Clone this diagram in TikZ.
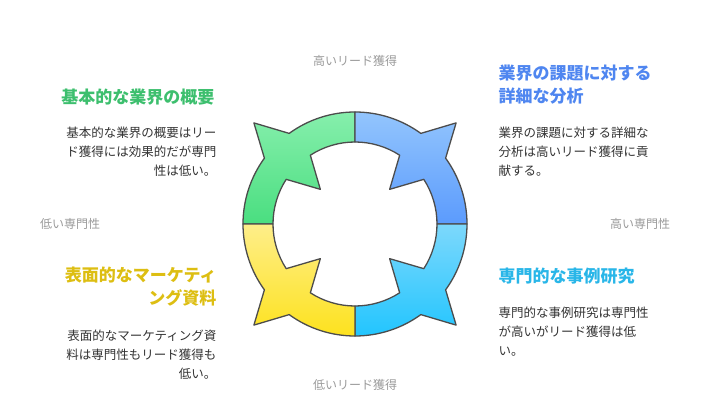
\documentclass[tikz,border=0pt]{standalone}
\usepackage{fontspec}
\setmainfont{Noto Sans CJK JP}
\usetikzlibrary{positioning}

\definecolor{cgreen}{HTML}{3DBF6E}
\definecolor{cblue}{HTML}{4F86F0}
\definecolor{ccyan}{HTML}{29B6E8}
\definecolor{cyellow}{HTML}{DDBE12}
\definecolor{cgray}{HTML}{9A9A9A}
\definecolor{ctext}{HTML}{333333}

\tikzset{
  axislabel/.style={text=cgray, font=\fontsize{12}{14}\selectfont},
  heading/.style={font=\fontsize{17}{23}\selectfont\bfseries},
  body/.style={text=ctext, font=\fontsize{12.5}{19}\selectfont},
  ring/.style={draw=black!70, line width=1.3pt, line join=round}
}

\begin{document}
\begin{tikzpicture}[x=1pt, y=1pt]
        \useasboundingbox (0,0) rectangle (722,413);

        % ring quadrants
        \begin{scope}[shift={(355,189)}]
        \foreach \a/\ctop/\cbot in {90/86EFAC/4ADE80, 0/93C5FD/5B9BFD, -90/7DD8FC/22C5FE, 180/FEEE8A/FDE21E} {
            \definecolor{qt}{HTML}{\ctop}
            \definecolor{qb}{HTML}{\cbot}
            \path[ring, top color=qt, bottom color=qb]
                ({\a+90}:82) -- ({\a+90}:112)
                arc[start angle=\a+90, end angle=\a+54, radius=112]
                -- ({\a+45}:143) -- ({\a+36}:112)
                arc[start angle=\a+36, end angle=\a, radius=112]
                -- (\a:82)
                arc[start angle=\a, end angle=\a+33, radius=82]
                -- ({\a+45}:49) -- ({\a+57}:82)
                arc[start angle=\a+57, end angle=\a+90, radius=82]
                -- cycle;
        }
        \end{scope}

        % axis labels
        \node[axislabel] (hilead) at (355,352) {高いリード獲得};
        \node[axislabel] (lolead) at (355,28) {低いリード獲得};
        \node[axislabel] (loexp) at (70,189) {低い専門性};
        \node[axislabel] (hiexp) at (640,189) {高い専門性};

        % top left
        \node[heading, text=cgreen, anchor=east] (tlhead) at (218,316) {基本的な業界の概要};
        \node[body, anchor=north east, align=right] (tlbody) at (220,290)
            {基本的な業界の概要はリー\\ド獲得には効果的だが専門\\性は低い。};

        % top right
        \node[heading, text=cblue, anchor=north west, align=left] (trhead) at (495,352)
            {業界の課題に対する\\詳細な分析};
        \node[body, anchor=north west, align=left] (trbody) at (495,290)
            {業界の課題に対する詳細な\\分析は高いリード獲得に貢\\献する。};

        % bottom right
        \node[heading, text=ccyan, anchor=west] (brhead) at (495,137) {専門的な事例研究};
        \node[body, anchor=north west, align=left] (brbody) at (495,110)
            {専門的な事例研究は専門性\\が高いがリード獲得は低\\い。};

        % bottom left
        \node[heading, text=cyellow, anchor=north east, align=right] (blhead) at (220,150)
            {表面的なマーケティ\\ング資料};
        \node[body, anchor=north east, align=right] (blbody) at (220,87)
            {表面的なマーケティング資\\料は専門性もリード獲得も\\低い。};
\end{tikzpicture}
\end{document}
